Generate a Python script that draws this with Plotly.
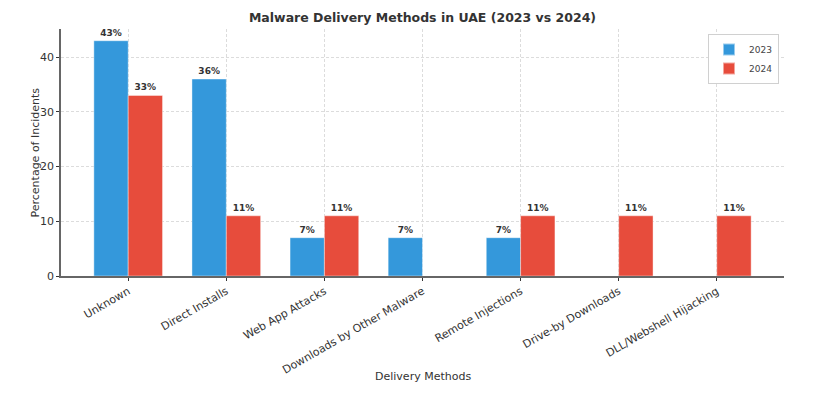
import plotly.graph_objects as go

categories = ["Unknown", "Direct Installs", "Web App Attacks", "Downloads by Other Malware",
              "Remote Injections", "Drive-by Downloads", "DLL/Webshell Hijacking"]
values_2023 = [43, 36, 7, 7, 7, 0, 0]
values_2024 = [33, 11, 11, 0, 11, 11, 11]

def labels(vals):
    return [f"{v}%" if v > 0 else "" for v in vals]

font_family = "DejaVu Sans"
fig = go.Figure()
fig.add_trace(go.Bar(
    x=categories, y=values_2023, name="2023",
    marker=dict(color="#3498db", line=dict(color="rgba(255,255,255,0.5)", width=0.8)),
    text=labels(values_2023), textposition="outside",
    textfont=dict(family=font_family, size=9, color="#333333", weight="bold"),
    cliponaxis=False,
))
fig.add_trace(go.Bar(
    x=categories, y=values_2024, name="2024",
    marker=dict(color="#e74c3c", line=dict(color="rgba(255,255,255,0.5)", width=0.8)),
    text=labels(values_2024), textposition="outside",
    textfont=dict(family=font_family, size=9, color="#333333", weight="bold"),
    cliponaxis=False,
))

# page body has an 8px margin, so the figure is sized to fit the window
OFF = 8
W, H = 814 - OFF, 397 - OFF
L, T = 61 - OFF, 29 - OFF
R = 814 - 784
B = H - (276 - OFF)
pw, ph = W - L - R, H - T - B

fig.update_layout(
    width=W, height=H,
    margin=dict(l=L, r=R, t=T, b=B, autoexpand=False),
    paper_bgcolor="white", plot_bgcolor="white",
    barmode="group", bargap=0.3, bargroupgap=0,
    font=dict(family=font_family, size=11, color="#333333"),
    title=dict(text="<b>Malware Delivery Methods in UAE (2023 vs 2024)</b>",
               x=(L + pw / 2) / W, xanchor="center", y=1 - (18 - OFF) / H, yanchor="middle",
               font=dict(size=12.5, color="#333333")),
    showlegend=True,
    legend=dict(x=(779 - OFF - L) / pw, y=1 - (34 - 29) / ph, xanchor="right", yanchor="top",
                bgcolor="white", bordercolor="#d0d0d0", borderwidth=1,
                font=dict(size=9, color="#444444"), tracegroupgap=0,
                itemwidth=30, itemsizing="constant"),
    annotations=[
        dict(text="Delivery Methods", xref="paper", yref="paper",
             x=0.5, y=-(376 - 276) / ph, xanchor="center", yanchor="middle",
             showarrow=False, font=dict(size=11, color="#333333")),
        dict(text="Percentage of Incidents", xref="paper", yref="paper",
             x=-(61 - 35) / pw, y=0.5, xanchor="center", yanchor="middle",
             textangle=-90, showarrow=False, font=dict(size=11, color="#333333")),
    ],
)
grid = dict(showgrid=True, gridcolor="#dcdcdc", griddash="3px,2px", gridwidth=0.8)
fig.update_xaxes(
    range=[-0.685, 6.685], tickangle=-30, automargin=False,
    showline=True, linecolor="#666666", linewidth=1.5,
    ticks="outside", ticklen=3, tickcolor="#333333",
    tickfont=dict(size=11, color="#333333"), **grid,
)
fig.update_yaxes(
    range=[0, 45.15], tickvals=[0, 10, 20, 30, 40], automargin=False,
    showline=True, linecolor="#666666", linewidth=1.5,
    ticks="outside", ticklen=3, tickcolor="#333333",
    zeroline=False,
    tickfont=dict(size=11, color="#333333"), **grid,
)

fig.write_html("out.html")
